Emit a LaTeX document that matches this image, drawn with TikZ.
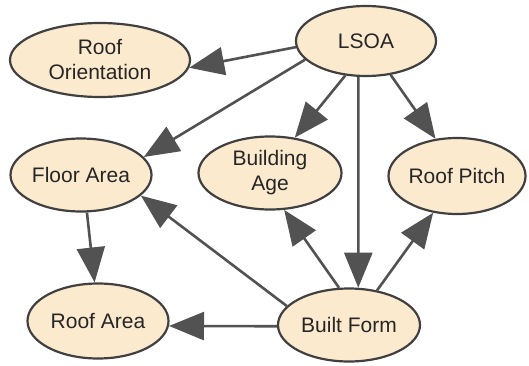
\documentclass[tikz,border=0pt]{standalone}
\usepackage{fontspec}
\setmainfont{Liberation Sans}
\usetikzlibrary{arrows.meta,shapes.geometric}
\definecolor{varfill}{RGB}{252,234,207}
\definecolor{varline}{RGB}{64,64,64}
\definecolor{edgeline}{RGB}{82,82,82}
\tikzstyle{var}=[ellipse,draw=varline,line width=2.2pt,fill=varfill,inner sep=0pt,align=center,text=black!85,font=\fontsize{21}{25}\selectfont]
\tikzstyle{post}=[-{Triangle[length=35pt,width=28pt]},line width=2.6pt,color=edgeline]

\begin{document}
\begin{tikzpicture}[x=1pt,y=-1pt]
\useasboundingbox (0,0) rectangle (529,366);
            \node (RO) [var,minimum width=180pt,minimum height=74pt] at (100,60) {Roof\\Orientation};
            \node (LSOA) [var,minimum width=140pt,minimum height=70pt] at (366,41) {LSOA};
            \node (FA) [var,minimum width=141pt,minimum height=73pt] at (81,175) {Floor Area};
            \node (BA) [var,minimum width=143pt,minimum height=73pt] at (270,173) {Building\\Age};
            \node (RP) [var,minimum width=136pt,minimum height=76pt] at (457,176) {Roof Pitch};
            \node (RA) [var,minimum width=141pt,minimum height=75pt] at (98,321) {Roof Area};
            \node (BF) [var,minimum width=142pt,minimum height=73pt] at (349,325) {Built Form};

            \path[post] (LSOA.185) edge (RO.-5);
            \path[post] (LSOA.197) edge (FA.16);
            \path[post] (LSOA.239) edge (BA.55);
            \path[post] (LSOA.-54) edge (RP.120);
            \path[post] (LSOA.258) edge (BF.76);
            \path[post] (BF.105) edge (BA.-69);
            \path[post] (BF.51) edge (RP.237);
            \path[post] (BF.163) edge (FA.-19);
            \path[post] (BF.181) edge (RA.-4);
            \path[post] (FA.-81) edge (RA.95);
        \end{tikzpicture}
\end{document}
